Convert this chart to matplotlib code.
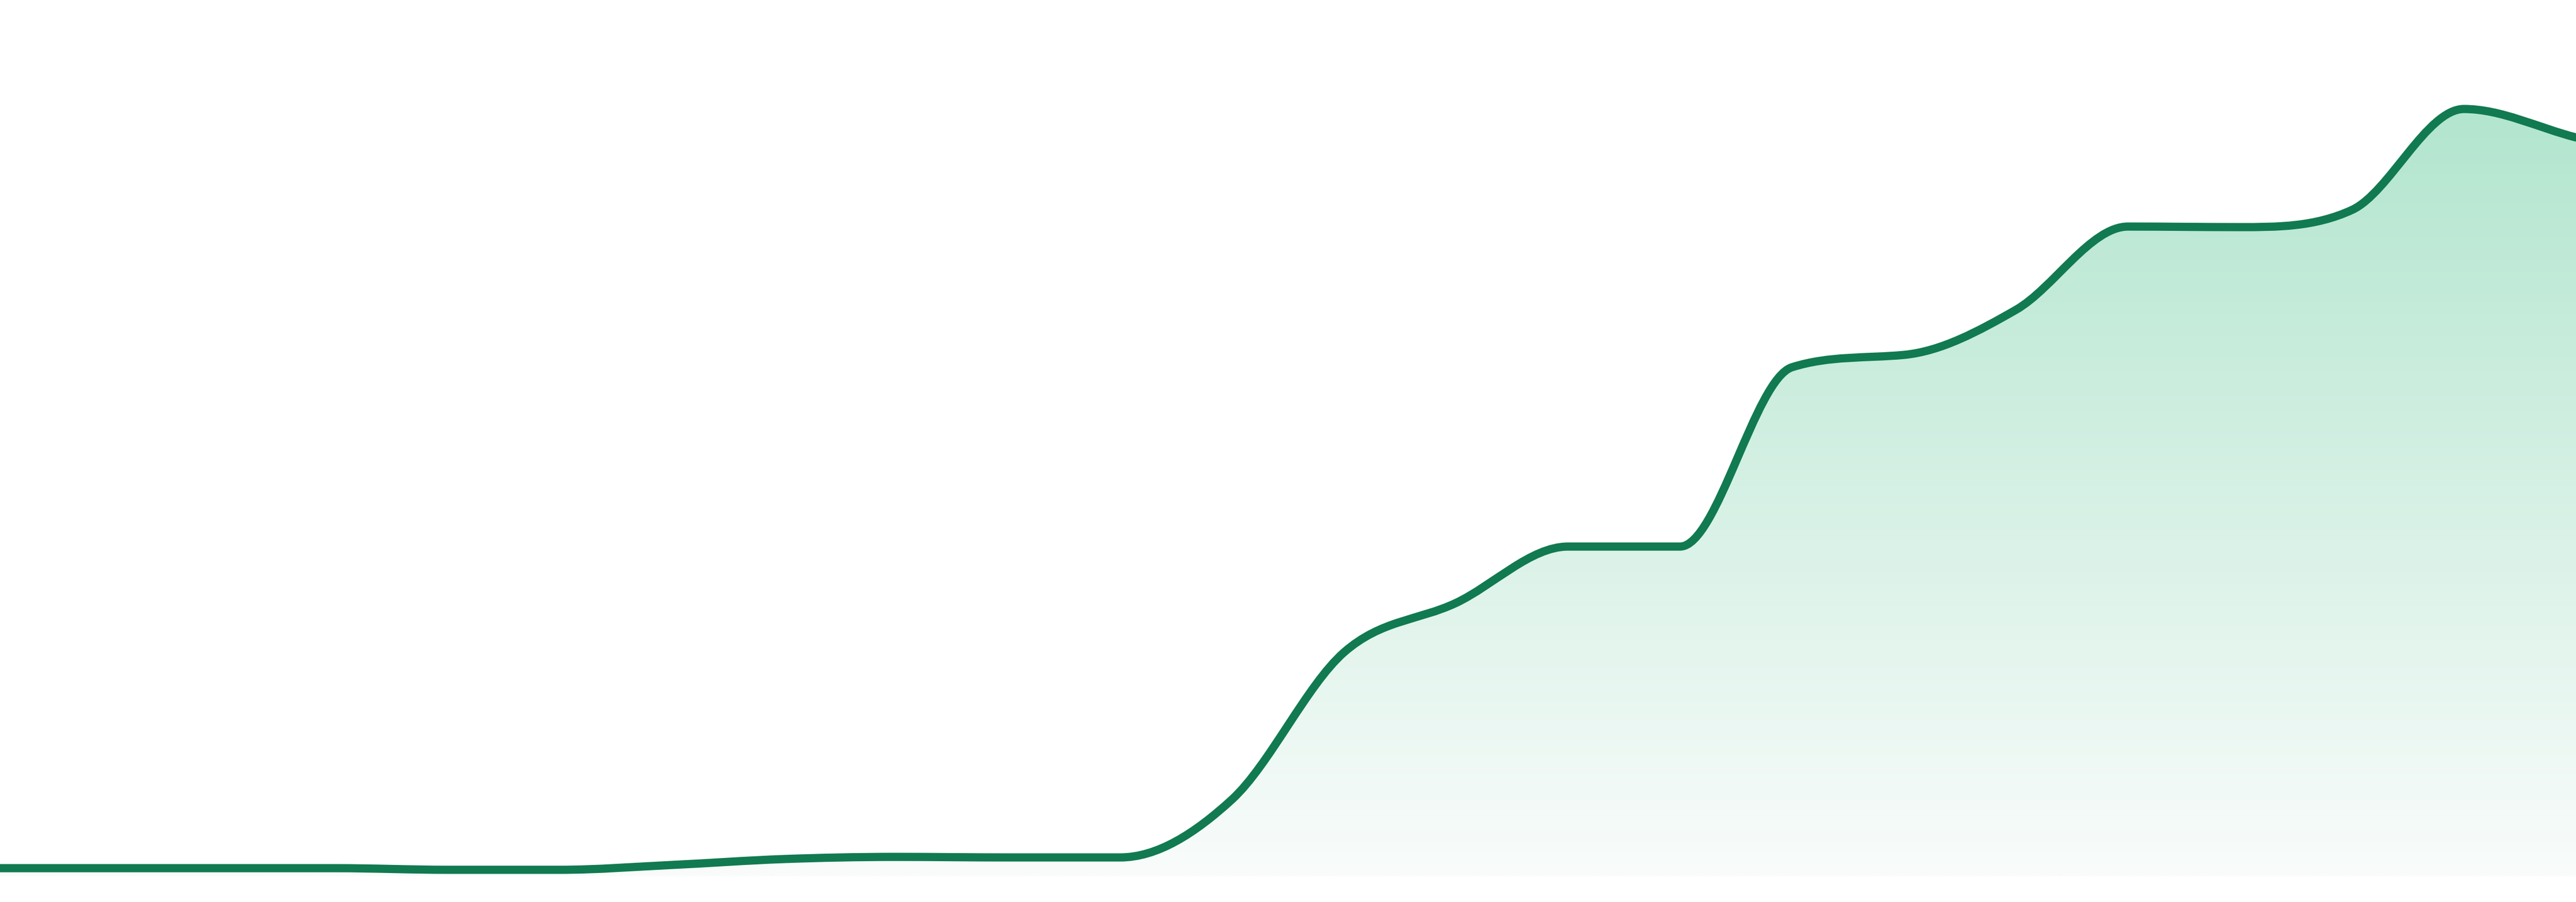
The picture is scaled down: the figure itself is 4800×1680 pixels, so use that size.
import numpy as np
import matplotlib
matplotlib.use("Agg")
import matplotlib.pyplot as plt
from matplotlib.path import Path
from matplotlib.patches import PathPatch

# ── data (24 evenly spaced points, heights) ───────────────────────────────────
steps = list(range(24))
values = [15, 15, 15, 15, 12, 12, 21, 32, 36, 35, 35, 143,
          417, 509, 614, 614, 948, 971, 1055, 1210, 1209, 1241, 1429, 1376]

line_color = "#117a50"
top_rgb = np.array([168, 226, 200]) / 255
bottom_rgb = np.array([249, 252, 251]) / 255
y_top = 1632


def monotone_tangents(x, y):
    # same idea as the "monotone" cubic mode of web chart libraries
    x = np.asarray(x, float)
    y = np.asarray(y, float)
    n = len(x)
    dk = np.diff(y) / np.diff(x)
    mk = np.zeros(n)
    mk[0] = dk[0]
    mk[-1] = dk[-1]
    for i in range(1, n - 1):
        if np.sign(dk[i - 1]) != np.sign(dk[i]):
            mk[i] = 0
        else:
            mk[i] = (dk[i - 1] + dk[i]) / 2
    for i in range(n - 1):
        if abs(dk[i]) < 1e-9:
            mk[i] = mk[i + 1] = 0
            continue
        a = mk[i] / dk[i]
        b = mk[i + 1] / dk[i]
        mag = a * a + b * b
        if mag <= 9:
            continue
        t = 3 / np.sqrt(mag)
        mk[i] = a * t * dk[i]
        mk[i + 1] = b * t * dk[i]
    return mk


def smooth_path(x, y):
    mk = monotone_tangents(x, y)
    verts = [(x[0], y[0])]
    codes = [Path.MOVETO]
    for i in range(len(x) - 1):
        dx = (x[i + 1] - x[i]) / 3
        verts += [(x[i] + dx, y[i] + mk[i] * dx),
                  (x[i + 1] - dx, y[i + 1] - mk[i + 1] * dx),
                  (x[i + 1], y[i + 1])]
        codes += [Path.CURVE4] * 3
    return verts, codes


fig = plt.figure(figsize=(48, 16.8), dpi=100)
ax = fig.add_axes([0, 48 / 1680, 1, 1632 / 1680])
ax.set_xlim(steps[0], steps[-1])
ax.set_ylim(0, y_top)
ax.axis("off")

verts, codes = smooth_path(steps, values)

# area under the curve with a vertical gradient
area_verts = verts + [(steps[-1], 0), (steps[0], 0), verts[0]]
area_codes = codes + [Path.LINETO, Path.LINETO, Path.CLOSEPOLY]
area = PathPatch(Path(area_verts, area_codes), facecolor="none", edgecolor="none")
ax.add_patch(area)

frac = np.linspace(1, 0, 256)[:, None]
grad = bottom_rgb + (top_rgb - bottom_rgb) * frac[..., None]
grad = np.repeat(grad, 2, axis=1)
img = ax.imshow(grad, extent=[steps[0], steps[-1], 0, y_top],
                aspect="auto", origin="upper", interpolation="bilinear", zorder=1)
img.set_clip_path(area)

# the line itself
line = PathPatch(Path(verts, codes), facecolor="none", edgecolor=line_color,
                 linewidth=11, capstyle="round", joinstyle="round", zorder=3)
ax.add_patch(line)

fig.savefig("out.png", dpi=100, facecolor="white")
